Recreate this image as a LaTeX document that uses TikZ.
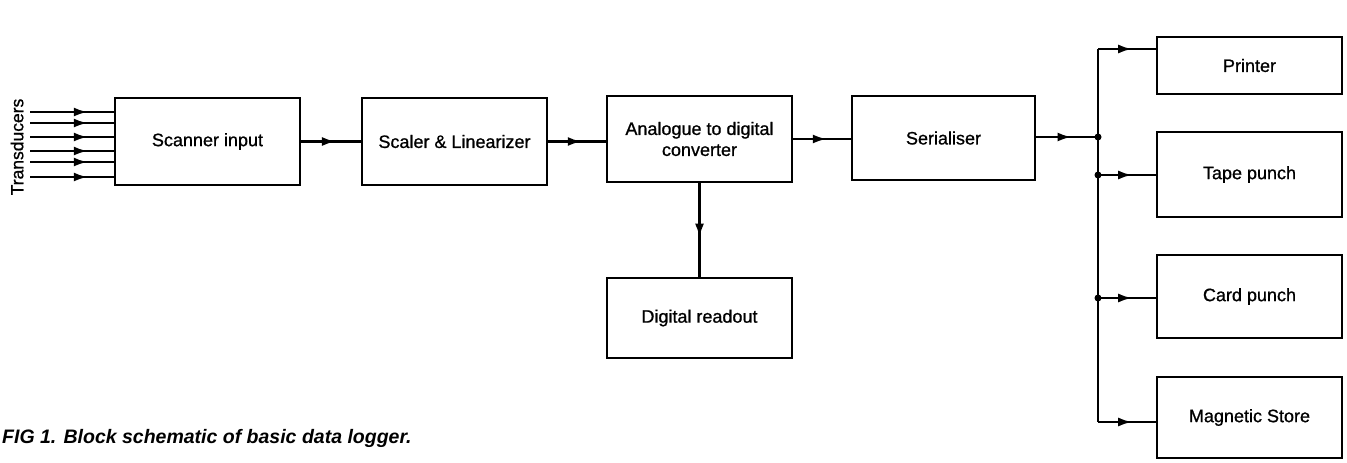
\documentclass[tikz,border=0pt]{standalone}
\usepackage{fontspec}
\setmainfont{Liberation Sans}
\newfontfamily\medfont{Liberation Sans}[FakeBold=0.9]
\usetikzlibrary{arrows.meta,decorations.markings}
\begin{document}
\begin{tikzpicture}[x=1pt,y=-1pt,
  blk/.style={draw,line width=2.6pt,rectangle,inner sep=0pt,outer sep=0pt,align=center,
    font=\medfont\fontsize{18}{21}\selectfont},
  wire/.style={line width=2.6pt},
  mid/.style={wire,postaction={decorate},decoration={markings,
    mark=at position #1 with {\arrow{Latex[length=14pt,width=9pt]}}}},
  mid/.default=0.58,
  dotj/.style={circle,fill,inner sep=0pt,minimum size=7pt}]
\useasboundingbox (0,0) rectangle (1347,463);
% blocks
\node[blk,minimum width=185pt,minimum height=87pt] (scan) at (207.5,141.5) {Scanner input};
\node[blk,minimum width=185pt,minimum height=87pt] (scal) at (454.5,141.5) {Scaler \& Linearizer};
\node[blk,minimum width=185pt,minimum height=86pt] (adc) at (699.5,139) {Analogue to digital\\converter};
\node[blk,minimum width=183pt,minimum height=84pt] (ser) at (943.5,138) {Serialiser};
\node[blk,minimum width=185pt,minimum height=80pt] (read) at (699.5,318) {Digital readout};
\node[blk,minimum width=185pt,minimum height=57pt] (pr) at (1249.5,65.5) {Printer};
\node[blk,minimum width=185pt,minimum height=85pt] (tp) at (1249.5,174.5) {Tape punch};
\node[blk,minimum width=185pt,minimum height=83pt] (cp) at (1249.5,296.5) {Card punch};
\node[blk,minimum width=185pt,minimum height=81pt] (ms) at (1249.5,417.5) {Magnetic Store};
% transducers
\node[rotate=90,font=\medfont\fontsize{17.5}{20}\selectfont] (trl) at (17,147) {Transducers};
\foreach \i/\y in {1/112,2/123,3/137,4/151,5/162,6/177}{
  \coordinate (t\i) at (30,\y);
  \draw[mid=0.68] (t\i) -- (t\i -| scan.west);
}
% main chain
\draw[mid] (scan.east) -- (scan.east -| scal.west);
\draw[mid] (scal.east) -- (scal.east -| adc.west);
\draw[mid] (adc.east) -- (adc.east -| ser.west);
\draw[mid] (adc.south) -- (read.north);
% bus
\coordinate (bp) at (1098,49);
\coordinate (j0) at (1098,137);
\coordinate (bt) at (1098,175);
\coordinate (bc) at (1098,298);
\coordinate (bm) at (1098,422);
\draw[wire] (bp) -- (bm);
\draw[mid] (ser.east |- j0) -- (j0);
\draw[mid] (bp) -- (bp -| pr.west);
\draw[mid] (bt) -- (bt -| tp.west);
\draw[mid] (bc) -- (bc -| cp.west);
\draw[mid] (bm) -- (bm -| ms.west);
\node[dotj] (d0) at (j0) {};
\node[dotj] (d1) at (bt) {};
\node[dotj] (d2) at (bc) {};
% caption
\node[anchor=base west,inner sep=0pt,font=\fontsize{19.5}{22}\selectfont\bfseries\itshape] (cap) at (2,443) {FIG 1. Block schematic of basic data logger.};
\end{tikzpicture}
\end{document}
